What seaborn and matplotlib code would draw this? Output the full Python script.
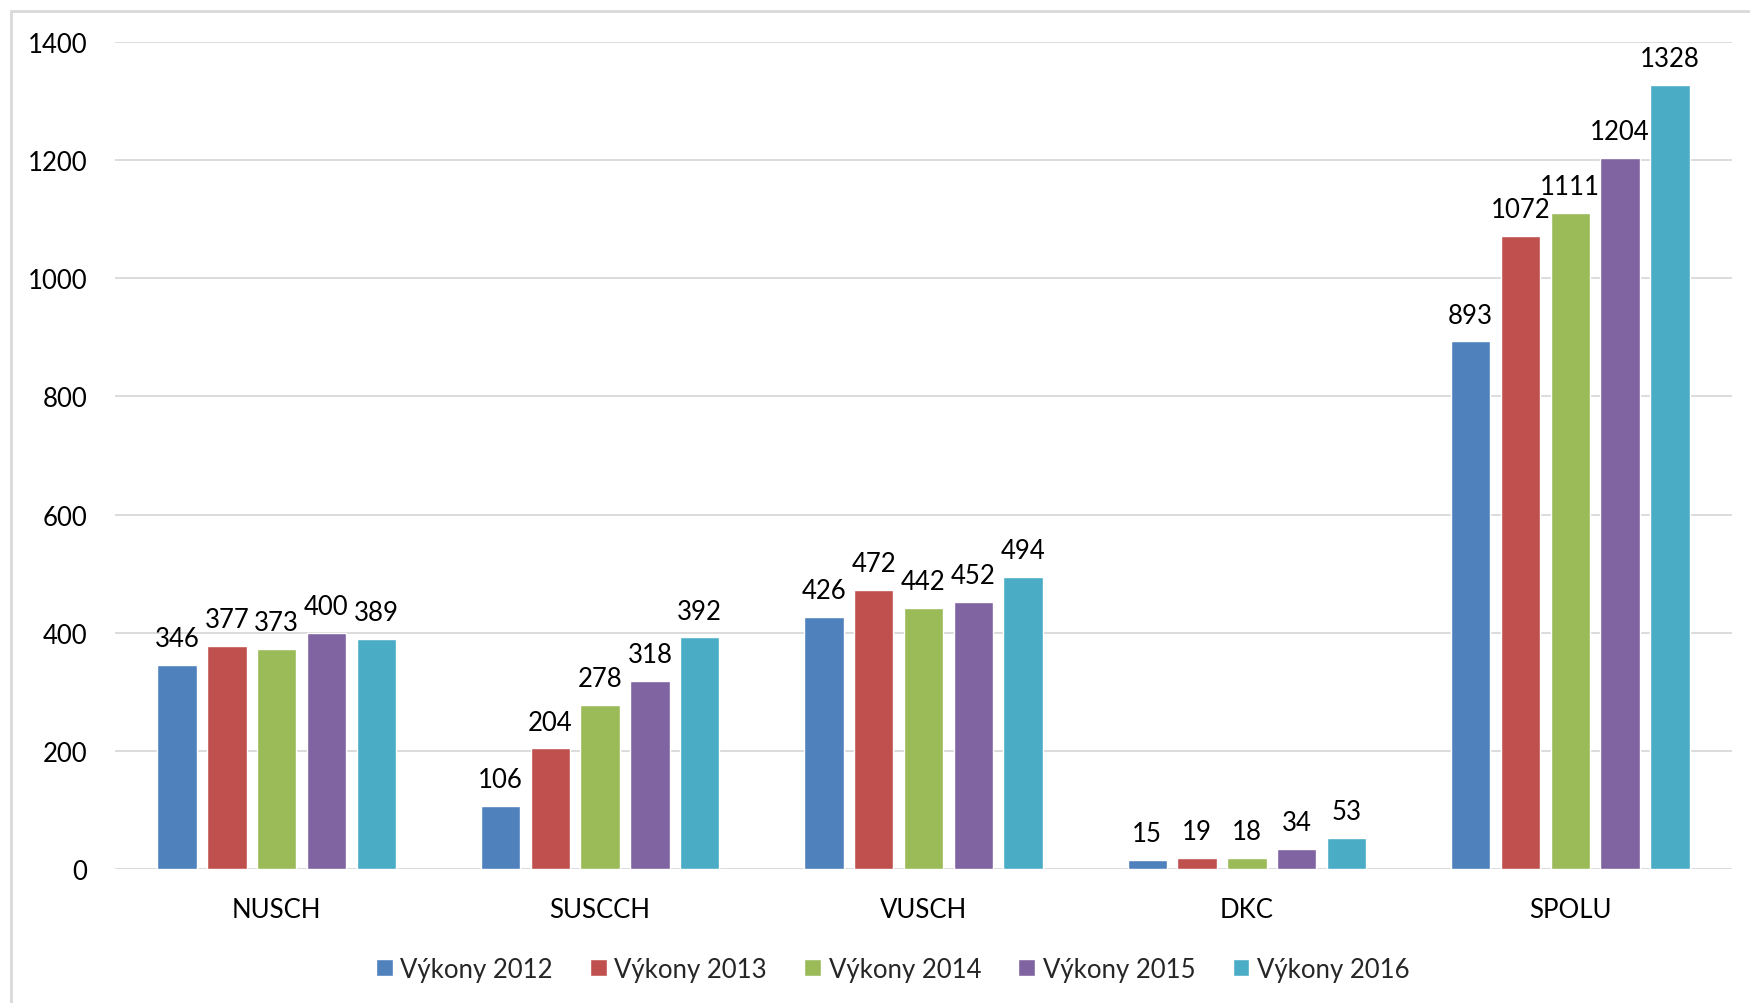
import numpy as np
import pandas as pd
import matplotlib
matplotlib.use("Agg")
import matplotlib.pyplot as plt
import seaborn as sns
from matplotlib.patches import Rectangle

# ── Data ───────────────────────────────────────────────────────────────────────
categories = ["NUSCH", "SUSCCH", "VUSCH", "DKC", "SPOLU"]
series = ["Výkony 2012", "Výkony 2013", "Výkony 2014", "Výkony 2015", "Výkony 2016"]

v2012 = [346, 106, 426, 15, 893]
v2013 = [377, 204, 472, 19, 1072]
v2014 = [373, 278, 442, 18, 1111]
v2015 = [400, 318, 452, 34, 1204]
v2016 = [389, 392, 494, 53, 1328]

colors = ["#4F81BD", "#C0504D", "#9BBB59", "#8064A2", "#4BACC6"]
yticks = [0, 200, 400, 600, 800, 1000, 1200, 1400]

df = pd.DataFrame({
    "kategoria": categories * 5,
    "rok": np.repeat(series, len(categories)),
    "hodnota": v2012 + v2013 + v2014 + v2015 + v2016,
})

# ── Plot ───────────────────────────────────────────────────────────────────────
sns.set_theme(style="white")
plt.rcParams["font.family"] = ["Lato", "DejaVu Sans"]
fs = 18.5

fig = plt.figure(figsize=(17.5, 10.04), dpi=100)
ax = fig.add_axes([115 / 1750, 1 - 870 / 1004, (1732 - 115) / 1750, (870 - 43) / 1004])

sns.barplot(data=df, x="kategoria", y="hodnota", hue="rok", order=categories,
            hue_order=series, palette=colors, width=0.77, gap=0.21,
            saturation=1, ax=ax)

for cont in ax.containers:
    ax.bar_label(cont, fontsize=fs, padding=10, color="black")

ax.set_ylim(0, 1400)
ax.set_yticks(yticks)
ax.set_xlim(-0.5, len(categories) - 0.5)
ax.yaxis.grid(True, color="#D9D9D9", linewidth=1.3)
ax.set_axisbelow(True)
for s in ax.spines.values():
    s.set_visible(False)
ax.tick_params(axis="y", length=0, pad=20, labelsize=fs, labelcolor="black")
ax.tick_params(axis="x", length=0, pad=20, labelsize=fs, labelcolor="black")
ax.set_xlabel("")
ax.set_ylabel("")

handles, labels = ax.get_legend_handles_labels()
ax.legend(handles, labels, loc="center", bbox_to_anchor=(0.5 - 0.019, -0.121),
          ncol=5, frameon=False, fontsize=fs, handlelength=0.65, handleheight=0.65,
          handletextpad=0.3, columnspacing=1.45)

# outer chart border
fig.add_artist(Rectangle((11 / 1750, -0.02), 1.05, 1 - 12 / 1004 + 0.02,
                         transform=fig.transFigure, fill=False,
                         edgecolor="#D9D9D9", linewidth=2))

fig.savefig("out.png", dpi=100, facecolor="white")
